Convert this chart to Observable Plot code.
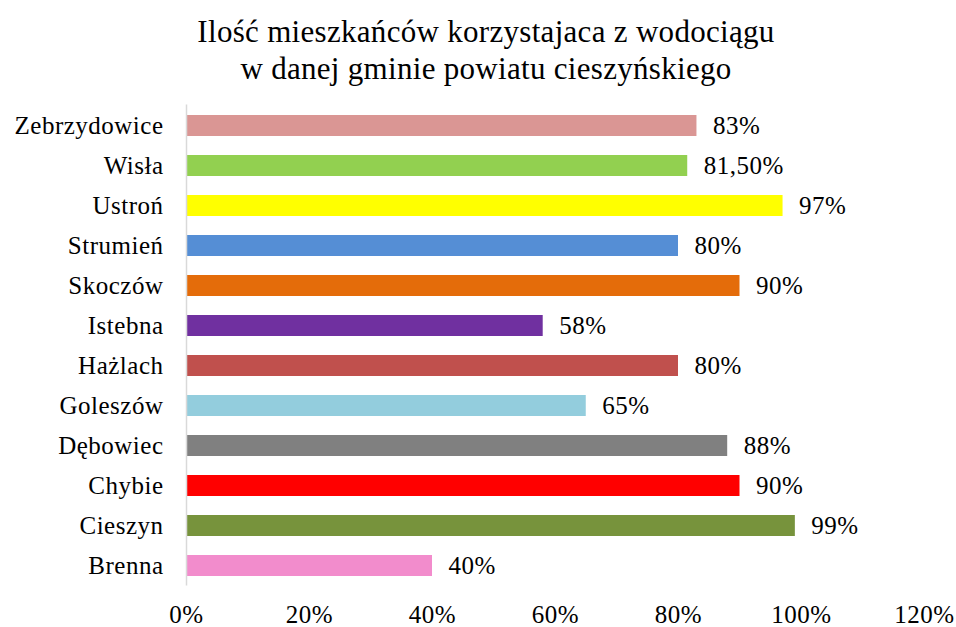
<!DOCTYPE html>
<html><head><meta charset="utf-8">
<script src="https://cdn.jsdelivr.net/npm/d3@7"></script>
<script src="https://cdn.jsdelivr.net/npm/@observablehq/plot@0.6"></script>
<style>
body{margin:0;background:#fff;font-family:"Liberation Serif","Times New Roman","DejaVu Serif",serif;width:956px;height:627px;overflow:hidden}
#title{height:85px;padding-top:13px;padding-left:16px;text-align:center;font-size:31px;letter-spacing:0.3px;line-height:37px;color:#000}
svg{display:block}
svg text{letter-spacing:0.5px}
</style></head><body>
<div id="title">Ilość mieszkańców korzystajaca z wodociągu<br>w danej gminie powiatu cieszyńskiego</div>
<div id="chart"></div>
<script>
const categories = ["Zebrzydowice","Wisła","Ustroń","Strumień","Skoczów","Istebna","Hażlach","Goleszów","Dębowiec","Chybie","Cieszyn","Brenna"];
const values = [0.83,0.815,0.97,0.80,0.90,0.58,0.80,0.65,0.88,0.90,0.99,0.40];
const valueLabels = ["83%","81,50%","97%","80%","90%","58%","80%","65%","88%","90%","99%","40%"];
const colors = ["#DA9694","#92D050","#FFFF00","#558ED5","#E46C0A","#7030A0","#C0504D","#93CDDD","#808080","#FF0000","#77933C","#F28CCC"];
const xTicks = [0,0.2,0.4,0.6,0.8,1.0,1.2];

const data = categories.map((c,i)=>({cat:c,value:values[i],label:valueLabels[i],color:colors[i]}));

const chart = Plot.plot({
  width:956, height:529,
  marginLeft:186, marginRight:32, marginTop:6.5, marginBottom:41.5,
  style:{fontFamily:"Liberation Serif, Times New Roman, DejaVu Serif, serif",fontSize:"25px",color:"#000",background:"#fff"},
  x:{domain:[0,1.2],ticks:xTicks,tickFormat:d=>Math.round(d*100)+"%",label:null,tickSize:0,tickPadding:19},
  y:{domain:categories,paddingInner:0.48,paddingOuter:0.24,label:null,tickSize:0,tickPadding:23},
  color:{type:"identity"},
  marks:[
    Plot.barX(data,{x:"value",y:"cat",fill:"color"}),
    Plot.ruleX([0],{stroke:"#d9d9d9",strokeWidth:1.5}),
    Plot.text(data,{x:"value",y:"cat",text:"label",dx:16,textAnchor:"start",fontSize:25,fill:"#000"})
  ]
});
document.getElementById("chart").appendChild(chart);
</script>
</body></html>
